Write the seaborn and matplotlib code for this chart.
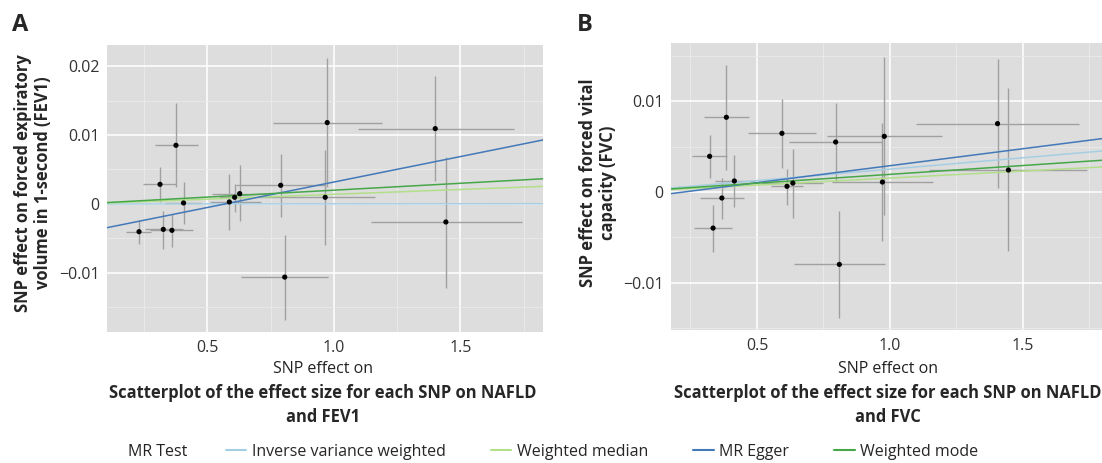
import numpy as np
import pandas as pd
import matplotlib
matplotlib.use("Agg")
import matplotlib.pyplot as plt
from matplotlib.lines import Line2D
from matplotlib.ticker import MultipleLocator, FixedLocator, FixedFormatter
import seaborn as sns

# Panel A: NAFLD -> FEV1 (SNP effects with 95% CI)
a_x = [0.230, 0.313, 0.376, 0.406, 0.326, 0.360, 0.587, 0.608, 0.628, 0.790, 0.806, 0.974, 0.966, 1.401, 1.443]
a_y = [-0.00402, 0.00285, 0.00851, 0.00015, -0.00368, -0.00382, 0.00029, 0.00097, 0.00150, 0.00271, -0.01060, 0.01180, 0.00097, 0.01093, -0.00261]
a_xlo = [0.180, 0.246, 0.292, 0.331, 0.252, 0.272, 0.509, 0.545, 0.520, 0.615, 0.632, 0.760, 0.700, 1.096, 1.146]
a_xhi = [0.279, 0.377, 0.463, 0.476, 0.404, 0.443, 0.713, 0.672, 0.740, 0.965, 0.977, 1.190, 1.161, 1.712, 1.744]
a_ylo = [-0.00585, 0.00029, 0.00247, -0.00295, -0.00648, -0.00624, -0.00373, -0.00116, -0.00252, -0.00190, -0.01679, 0.00250, -0.00600, 0.00334, -0.01214]
a_yhi = [-0.00227, 0.00537, 0.01466, 0.00319, -0.00102, -0.00150, 0.00440, 0.00295, 0.00561, 0.00730, -0.00445, 0.02110, 0.00789, 0.01853, 0.00682]

# Panel B: NAFLD -> FVC
b_x = [0.322, 0.385, 0.415, 0.368, 0.335, 0.594, 0.613, 0.635, 0.796, 0.810, 0.979, 0.972, 1.405, 1.446]
b_y = [0.00394, 0.00825, 0.00122, -0.00066, -0.00398, 0.00648, 0.00063, 0.00099, 0.00552, -0.00799, 0.00615, 0.00110, 0.00755, 0.00243]
b_xlo = [0.256, 0.300, 0.341, 0.287, 0.262, 0.466, 0.554, 0.520, 0.619, 0.638, 0.763, 0.782, 1.098, 1.146]
b_xhi = [0.387, 0.469, 0.494, 0.450, 0.406, 0.723, 0.675, 0.750, 0.970, 0.982, 1.195, 1.164, 1.713, 1.743]
b_ylo = [0.00155, 0.00247, -0.00166, -0.00295, -0.00663, 0.00265, -0.00140, -0.00287, 0.00110, -0.01392, -0.00250, -0.00545, 0.00044, -0.00656]
b_yhi = [0.00634, 0.01407, 0.00405, 0.00155, -0.00147, 0.01031, 0.00258, 0.00479, 0.00983, -0.00210, 0.01492, 0.00766, 0.01473, 0.01149]

# MR estimates (slope, intercept) per method
methods = ["Inverse variance weighted", "Weighted median", "MR Egger", "Weighted mode"]
method_colors = ["#a6cee3", "#b2df8a", "#4379b9", "#45a748"]
a_slope = [0.00002, 0.00140, 0.00738, 0.00200]
a_icept = [0.0, 0.0, -0.00420, 0.0]
b_slope = [0.00252, 0.00154, 0.003745, 0.00195]
b_icept = [0.0, 0.0, -0.00084, 0.0]

a_yticks = [-0.01, 0.0, 0.01, 0.02]
a_yticklabels = ["\u22120.01", "0", "0.01", "0.02"]
b_yticks = [-0.01, 0.0, 0.01]
b_yticklabels = ["\u22120.01", "0", "0.01"]
xticks = [0.5, 1.0, 1.5]
xticklabels = ["0.5", "1.0", "1.5"]

sns.set_theme(style="darkgrid", rc={"axes.facecolor": "#dddddd", "grid.color": "white"})
plt.rcParams["font.family"] = ["Open Sans", "DejaVu Sans"]

W, H = 1102, 463
fig = plt.figure(figsize=(W / 100, H / 100), dpi=100)
fig.patch.set_facecolor("white")


def px_rect(left, top, right, bottom):
    return [left / W, 1 - bottom / H, (right - left) / W, (bottom - top) / H]


def draw_panel(ax, x, y, xlo, xhi, ylo, yhi, slopes, icepts, xlim, ylim, yticks, yticklabels):
    df = pd.DataFrame({"x": x, "y": y, "xlo": xlo, "xhi": xhi, "ylo": ylo, "yhi": yhi})
    ax.hlines(df["y"], df["xlo"], df["xhi"], color="#a0a0a0", lw=1.0, zorder=2)
    ax.vlines(df["x"], df["ylo"], df["yhi"], color="#a0a0a0", lw=1.0, zorder=2)
    for m, c, s, b in zip(methods, method_colors, slopes, icepts):
        ax.axline((0, b), slope=s, color=c, lw=1.1, zorder=3)
    sns.scatterplot(data=df, x="x", y="y", color="black", s=14, edgecolor="none", ax=ax, zorder=4)
    ax.set_xlim(*xlim)
    ax.set_ylim(*ylim)
    ax.xaxis.set_major_locator(FixedLocator(xticks))
    ax.xaxis.set_major_formatter(FixedFormatter(xticklabels))
    ax.yaxis.set_major_locator(FixedLocator(yticks))
    ax.yaxis.set_major_formatter(FixedFormatter(yticklabels))
    ax.xaxis.set_minor_locator(MultipleLocator(0.25))
    ax.yaxis.set_minor_locator(MultipleLocator(0.005))
    ax.grid(which="major", color="white", lw=1.1)
    ax.grid(which="minor", color="#ebebeb", lw=0.6)
    ax.set_axisbelow(True)
    ax.set_xlabel("")
    ax.set_ylabel("")
    for sp in ax.spines.values():
        sp.set_visible(False)
    ax.tick_params(which="major", length=2.5, width=0.8, color="#444444",
                   labelsize=11.5, labelcolor="#333333", pad=3)
    ax.tick_params(which="minor", length=0)


axA = fig.add_axes(px_rect(107, 45, 543, 332))
draw_panel(axA, a_x, a_y, a_xlo, a_xhi, a_ylo, a_yhi, a_slope, a_icept,
           (0.1034, 1.827), (-0.01856, 0.02305), a_yticks, a_yticklabels)

axB = fig.add_axes(px_rect(671, 43, 1102, 330))
draw_panel(axB, b_x, b_y, b_xlo, b_xhi, b_ylo, b_yhi, b_slope, b_icept,
           (0.1767, 1.798), (-0.01523, 0.01645), b_yticks, b_yticklabels)

# panel letters
fig.text(12 / W, 1 - 25 / H, "A", fontsize=17, fontweight="bold", ha="left", va="center")
fig.text(577 / W, 1 - 25 / H, "B", fontsize=17, fontweight="bold", ha="left", va="center")

# y labels
fig.text(33 / W, 1 - 183 / H, "SNP effect on forced expiratory\nvolume in 1-second (FEV1)",
         rotation=90, ha="center", va="center", multialignment="center",
         fontsize=11.9, fontweight="bold", linespacing=1.15)
fig.text(598 / W, 1 - 183 / H, "SNP effect on forced vital\ncapacity (FVC)",
         rotation=90, ha="center", va="center", multialignment="center",
         fontsize=11.9, fontweight="bold", linespacing=1.15)

# x labels and captions
for cx, cap in [(323, "Scatterplot of the effect size for each SNP on NAFLD\nand FEV1"),
                (888, "Scatterplot of the effect size for each SNP on NAFLD\nand FVC")]:
    fig.text(cx / W, 1 - 369 / H, "SNP effect on", ha="center", va="center",
             fontsize=11.5, color="#222222")
    fig.text(cx / W, 1 - 405 / H, cap, ha="center", va="center", multialignment="center",
             fontsize=11.9, fontweight="bold", linespacing=1.5)

# legend
fig.text(128 / W, 1 - 452 / H, "MR Test", ha="left", va="center", fontsize=11.5, color="#222222")
handles = [Line2D([0], [0], color=c, lw=1.5) for c in method_colors]
fig.legend(handles, methods, loc="center", bbox_to_anchor=(602 / W, 1 - 452 / H),
           ncol=4, frameon=False, fontsize=11.5, handlelength=1.3, handletextpad=0.35,
           columnspacing=2.8, borderpad=0, borderaxespad=0)

fig.savefig("out.png", dpi=100)
